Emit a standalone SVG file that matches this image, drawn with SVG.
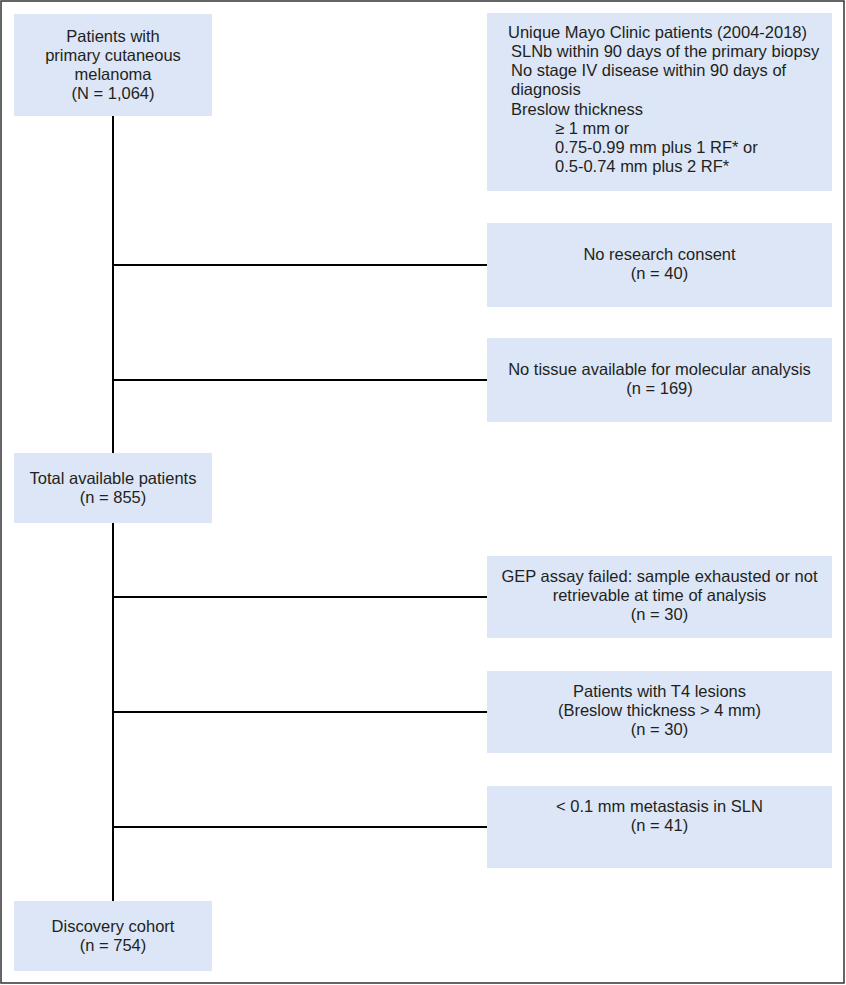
<svg xmlns="http://www.w3.org/2000/svg" width="846" height="985" viewBox="0 0 846 985">
<style>
.box{fill:#dce6f7;stroke:none}
.t{font-family:"Liberation Sans",Arial,sans-serif;font-size:16.5px;fill:#231f20}
.c{text-anchor:middle}
.ln{stroke:#000;stroke-width:2;fill:none}
</style>
<rect x="1" y="1" width="843" height="982" fill="#fff" stroke="#333" stroke-width="1.5"/>
<g id="connectors">
<line class="ln" x1="113" y1="116" x2="113" y2="453"/>
<line class="ln" x1="113" y1="523" x2="113" y2="901"/>
<line class="ln" x1="113" y1="265" x2="487" y2="265"/>
<line class="ln" x1="113" y1="380" x2="487" y2="380"/>
<line class="ln" x1="113" y1="597" x2="487" y2="597"/>
<line class="ln" x1="113" y1="712" x2="487" y2="712"/>
<line class="ln" x1="113" y1="827" x2="487" y2="827"/>
</g>
<g id="n1">
<rect class="box" x="14" y="14" width="198" height="102"/>
<text class="t c" x="113" y="42">Patients with</text>
<text class="t c" x="113" y="61">primary cutaneous</text>
<text class="t c" x="113" y="80">melanoma</text>
<text class="t c" x="113" y="99">(N = 1,064)</text>
</g>
<g id="n2">
<rect class="box" x="487" y="13" width="345" height="178"/>
<text class="t" x="508" y="38">Unique Mayo Clinic patients (2004-2018)</text>
<text class="t" x="511" y="57">SLNb within 90 days of the primary biopsy</text>
<text class="t" x="511" y="76">No stage IV disease within 90 days of</text>
<text class="t" x="511" y="95">diagnosis</text>
<text class="t" x="511" y="115">Breslow thickness</text>
<text class="t" x="555" y="134">≥ 1 mm  or</text>
<text class="t" x="555" y="153">0.75-0.99 mm plus 1 RF* or</text>
<text class="t" x="555" y="172">0.5-0.74 mm plus 2 RF*</text>
</g>
<g id="n3">
<rect class="box" x="487" y="223" width="345" height="84"/>
<text class="t c" x="659.5" y="260">No research consent</text>
<text class="t c" x="659.5" y="279">(n = 40)</text>
</g>
<g id="n4">
<rect class="box" x="487" y="338" width="345" height="84"/>
<text class="t c" x="659.5" y="375">No tissue available for molecular analysis</text>
<text class="t c" x="659.5" y="394">(n = 169)</text>
</g>
<g id="n5">
<rect class="box" x="14" y="453" width="198" height="70"/>
<text class="t c" x="113" y="484">Total available patients</text>
<text class="t c" x="113" y="503">(n = 855)</text>
</g>
<g id="n6">
<rect class="box" x="487" y="556" width="345" height="82"/>
<text class="t c" x="659.5" y="582">GEP assay failed: sample exhausted or not</text>
<text class="t c" x="659.5" y="601">retrievable at time of analysis</text>
<text class="t c" x="659.5" y="620">(n = 30)</text>
</g>
<g id="n7">
<rect class="box" x="487" y="671" width="345" height="82"/>
<text class="t c" x="659.5" y="697">Patients with T4 lesions</text>
<text class="t c" x="659.5" y="716">(Breslow thickness &gt; 4 mm)</text>
<text class="t c" x="659.5" y="735">(n = 30)</text>
</g>
<g id="n8">
<rect class="box" x="487" y="786" width="345" height="82"/>
<text class="t c" x="659.5" y="812">&lt; 0.1 mm metastasis in SLN</text>
<text class="t c" x="659.5" y="831">(n = 41)</text>
</g>
<g id="n9">
<rect class="box" x="14" y="901" width="198" height="70"/>
<text class="t c" x="113" y="932">Discovery cohort</text>
<text class="t c" x="113" y="951">(n = 754)</text>
</g>
</svg>
